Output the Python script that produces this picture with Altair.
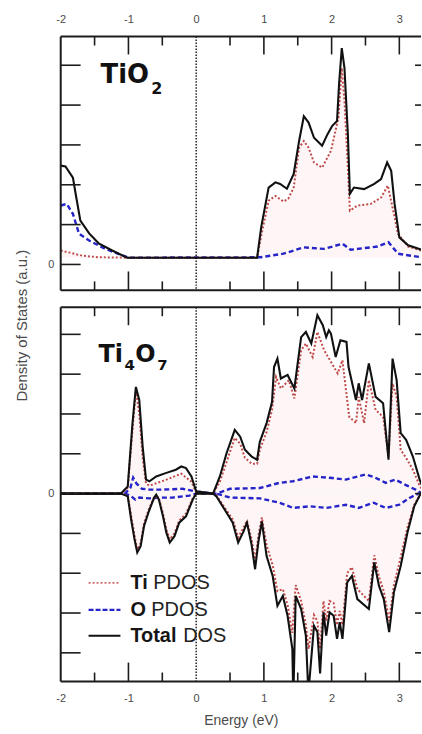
import altair as alt
import pandas as pd

# ---------------- TiO2 panel data ----------------
TIO2_TOTAL_E = [-2.0, -1.93, -1.82, -1.77, -1.71, -1.58, -1.44, -1.24, -1.02, 0.90, 0.96, 1.07, 1.17, 1.24, 1.34,
                1.44, 1.52, 1.59, 1.66, 1.74, 1.86, 1.94, 2.01, 2.08, 2.11, 2.15, 2.19, 2.24, 2.27, 2.33, 2.48,
                2.63, 2.73, 2.82, 2.88, 2.93, 3.00, 3.13, 3.36]
TIO2_TOTAL = [2.48, 2.46, 2.18, 1.68, 1.10, 0.78, 0.53, 0.35, 0.17, 0.17, 0.93, 1.93, 2.06, 2.02, 1.90,
              2.27, 3.10, 3.72, 3.56, 3.18, 2.98, 3.27, 3.48, 3.60, 4.52, 5.43, 4.93, 3.27, 1.77, 1.93, 1.89,
              2.02, 2.14, 2.56, 2.35, 1.52, 0.68, 0.48, 0.35]
TIO2_TI_E = [-2.0, -1.68, -1.44, -1.0, 0.90, 0.97, 1.07, 1.17, 1.29, 1.36, 1.44, 1.52, 1.59, 1.66, 1.74, 1.86,
             1.99, 2.10, 2.15, 2.19, 2.24, 2.27, 2.38, 2.58, 2.73, 2.83, 2.90, 2.98, 3.13, 3.36]
TIO2_TI = [0.35, 0.22, 0.18, 0.17, 0.17, 0.80, 1.60, 1.72, 1.58, 1.65, 1.93, 2.93, 3.10, 2.93, 2.56, 2.43,
           2.85, 3.68, 4.93, 4.10, 2.43, 1.35, 1.48, 1.52, 1.68, 1.98, 1.43, 0.77, 0.45, 0.33]
TIO2_O_E = [-2.0, -1.91, -1.82, -1.73, -1.58, -1.34, -1.0, 0.95, 1.29, 1.59, 1.89, 2.16, 2.28, 2.68, 2.84,
            2.98, 3.36]
TIO2_O = [1.48, 1.52, 1.27, 0.77, 0.60, 0.39, 0.17, 0.18, 0.27, 0.43, 0.39, 0.52, 0.37, 0.45, 0.56, 0.27, 0.17]
TIO2_BASE = 0.17

# ---------------- Ti4O7 panel data (spin up / spin down) ----------------
T47_TOT_UP_E = [-2.0, -1.11, -1.01, -0.94, -0.89, -0.84, -0.79, -0.74, -0.69, -0.59, -0.44, -0.30, -0.22, -0.15,
                -0.07, 0.0, 0.25, 0.35, 0.45, 0.57, 0.65, 0.72, 0.82, 0.90, 0.94, 1.04, 1.12, 1.15, 1.20, 1.25,
                1.35, 1.45, 1.55, 1.62, 1.70, 1.79, 1.87, 1.92, 1.96, 1.99, 2.06, 2.13, 2.22, 2.25, 2.36, 2.40,
                2.45, 2.55, 2.65, 2.76, 2.84, 2.90, 2.96, 3.02, 3.10, 3.20, 3.30, 3.36]
T47_TOT_UP = [0, 0, 0.18, 1.77, 2.68, 2.35, 1.18, 0.35, 0.31, 0.43, 0.52, 0.60, 0.68, 0.64,
              0.43, 0.06, 0.0, 0.43, 1.02, 1.60, 1.43, 1.10, 0.93, 0.85, 1.30, 1.77, 2.30, 3.18, 3.39, 2.89,
              2.98, 2.64, 3.93, 4.06, 3.77, 4.48, 4.23, 3.93, 4.10, 4.02, 3.43, 3.85, 3.81, 3.18, 2.35, 2.77,
              2.35, 3.27, 2.43, 2.27, 0.85, 3.39, 2.85, 1.52, 1.35, 0.93, 0.35, 0.10]
T47_TI_UP_E = [-2.0, -1.11, -1.01, -0.94, -0.89, -0.84, -0.79, -0.74, -0.69, -0.44, -0.22, -0.07, 0.0, 0.25,
               0.35, 0.45, 0.57, 0.65, 0.72, 0.82, 0.90, 0.94, 1.04, 1.12, 1.18, 1.25, 1.37, 1.45, 1.55, 1.62,
               1.72, 1.79, 1.89, 1.99, 2.09, 2.16, 2.26, 2.36, 2.40, 2.48, 2.55, 2.65, 2.76, 2.84, 2.90, 2.96,
               3.02, 3.10, 3.20, 3.30, 3.36]
T47_TI_UP = [0, 0, 0.15, 1.60, 2.60, 2.00, 0.90, 0.25, 0.20, 0.35, 0.50, 0.30, 0.03, 0.0,
             0.30, 0.80, 1.40, 1.25, 0.90, 0.75, 0.75, 1.10, 1.55, 2.10, 2.93, 2.64, 2.85, 2.39, 3.60, 3.77,
             3.43, 4.06, 3.60, 3.31, 3.02, 3.35, 1.93, 1.77, 2.43, 1.77, 2.85, 2.10, 1.93, 0.93, 2.77, 2.43,
             1.10, 0.90, 0.60, 0.20, 0.05]
T47_TOT_DN_E = [-2.0, -1.11, -1.01, -0.96, -0.91, -0.87, -0.82, -0.77, -0.70, -0.62, -0.59, -0.55, -0.49, -0.44,
                -0.39, -0.32, -0.25, -0.15, -0.05, 0.0, 0.25, 0.30, 0.42, 0.54, 0.62, 0.70, 0.75, 0.82, 0.87,
                0.92, 0.97, 1.04, 1.13, 1.20, 1.28, 1.35, 1.42, 1.43, 1.44, 1.47, 1.55, 1.62, 1.65, 1.67, 1.74,
                1.79, 1.83, 1.88, 1.92, 1.97, 2.03, 2.08, 2.12, 2.16, 2.23, 2.30, 2.38, 2.55, 2.63, 2.70, 2.77,
                2.85, 2.92, 3.02, 3.12, 3.22, 3.32, 3.36]
T47_TOT_DN = [0, 0, -0.07, -0.65, -1.15, -1.48, -1.32, -0.82, -0.45, -0.10, -0.03, -0.15, -0.57, -0.98,
              -1.23, -1.07, -0.73, -0.57, -0.15, 0.0, 0.0, -0.07, -0.40, -0.73, -1.23, -0.95, -0.73, -1.30, -1.90,
              -1.20, -0.70, -1.57, -2.07, -2.82, -2.57, -3.07, -3.90, -4.75, -4.75, -2.57, -2.90, -3.57, -4.75,
              -4.75, -3.32, -3.48, -4.52, -2.98, -3.57, -2.98, -3.07, -3.65, -3.23, -3.65, -2.23, -2.07, -2.65,
              -2.90, -1.73, -2.32, -2.65, -3.48, -2.48, -1.82, -0.98, -0.32, 0.02, 0.0]
T47_TI_DN_E = [-2.0, -1.11, -1.01, -0.96, -0.91, -0.87, -0.82, -0.77, -0.70, -0.62, -0.55, -0.49, -0.44, -0.39,
               -0.32, -0.25, -0.15, -0.05, 0.0, 0.25, 0.30, 0.42, 0.54, 0.62, 0.70, 0.75, 0.82, 0.87, 0.92, 0.97,
               1.04, 1.13, 1.20, 1.28, 1.35, 1.42, 1.47, 1.55, 1.62, 1.66, 1.74, 1.79, 1.83, 1.88, 1.92, 1.97,
               2.03, 2.08, 2.12, 2.16, 2.23, 2.30, 2.38, 2.55, 2.63, 2.70, 2.77, 2.85, 2.92, 3.02, 3.12, 3.22,
               3.32, 3.36]
T47_TI_DN = [0, 0, -0.05, -0.55, -1.05, -1.40, -1.25, -0.75, -0.40, -0.08, -0.12, -0.50, -0.90, -1.15,
             -1.00, -0.68, -0.50, -0.12, 0.0, 0.0, -0.05, -0.35, -0.65, -1.10, -0.85, -0.68, -1.15, -1.70, -1.05,
             -0.60, -1.30, -1.80, -2.45, -2.40, -2.80, -3.50, -2.30, -2.70, -3.30, -3.90, -3.05, -3.20, -3.90,
             -2.70, -3.20, -2.70, -2.75, -3.30, -2.95, -3.30, -2.00, -1.85, -2.40, -2.70, -1.55, -2.10, -2.45,
             -3.20, -2.30, -1.60, -0.85, -0.28, 0.0, 0.0]
T47_O_UP_E = [-2.0, -1.05, -0.97, -0.93, -0.88, -0.80, -0.69, -0.50, -0.20, 0.0, 0.30, 0.50, 0.94, 1.23, 1.43,
              1.72, 2.01, 2.21, 2.50, 2.62, 2.80, 2.94, 3.09, 3.24, 3.33]
T47_O_UP = [0, 0, 0.15, 0.40, 0.25, 0.12, 0.10, 0.10, 0.12, 0.05, 0.0, 0.12, 0.14, 0.27, 0.31,
            0.43, 0.39, 0.35, 0.48, 0.42, 0.27, 0.35, 0.22, 0.10, 0.0]
T47_O_DN_E = [-2.0, -1.05, -0.97, -0.90, -0.84, -0.69, -0.50, -0.35, -0.10, 0.0, 0.30, 0.50, 0.94, 1.23, 1.43,
              1.68, 1.92, 2.21, 2.40, 2.62, 2.80, 3.00, 3.15, 3.28]
T47_O_DN = [0, 0, -0.05, -0.15, -0.10, -0.12, -0.10, -0.10, -0.05, 0.0, 0.0, -0.10, -0.12, -0.23, -0.36,
            -0.32, -0.36, -0.28, -0.36, -0.23, -0.36, -0.28, -0.11, 0.0]
T47_BASE = 0.0

# ---------------- axes / ticks / labels ----------------
X_DOMAIN = [-2, 3.32]
X_LABELS = [-2, -1, 0, 1, 2, 3]
X_MAJOR = [-1, 1, 2, 3]
X_MINOR = [-1.5, -0.5, 0.5, 1.5, 2.5]
Y_DOMAIN_TOP = [-0.65, 5.72]
Y_DOMAIN_BOT = [-4.72, 4.68]
Y_TICKS_TOP = [0, 1, 2, 3, 4, 5]
Y_TICKS_BOT = [-4, -3, -2, -1, 0, 1, 2, 3, 4]
Y_LABELS = [0]
TIO2_PARTS = ["TiO", "2"]
TI4O7_PARTS = ["Ti", "4", "O", "7"]
LEGEND_BOLD = ["Ti", "O", "Total"]
LEGEND_REST = ["PDOS", "PDOS", "DOS"]
Y_TITLE = "Density of States (a.u.)"
X_TITLE = "Energy (eV)"

W = 362
H_TOP = 255
H_BOT = 376
FRAME = "#1c1c1c"
TXT = "#4a4a4a"
RED = "#c04a4a"
BLUE = "#2424c8"
BLACK = "#111111"
FILL = "#fef6f6"
FONT = "Liberation Sans"
BIG = "DejaVu Sans"


def df_of(pairs):
    return pd.concat([pd.DataFrame({"E": e, "v": v, "part": p}) for e, v, p in pairs], ignore_index=True)


def txt(s, x, y, size, weight="bold", font=BIG, color=BLACK, baseline="alphabetic"):
    return alt.Chart(pd.DataFrame({"t": [s]})).mark_text(
        align="left", baseline=baseline, font=font, fontSize=size, fontWeight=weight, color=color
    ).encode(x=alt.value(x), y=alt.value(y), text="t:N")


def panel(h, ydom, yticks, ti, o, tot, base, x_axis, y_axis, extra):
    xs = alt.Scale(domain=X_DOMAIN, nice=False, zero=False)
    ys = alt.Scale(domain=ydom, nice=False, zero=False)
    X = alt.X("E:Q", scale=xs, axis=x_axis)
    Y = alt.Y("v:Q", scale=ys, axis=y_axis)
    layers = [
        alt.Chart(ti).mark_area(color=FILL, clip=True).encode(x=X, y=Y, y2=alt.datum(base), detail="part:N"),
        alt.Chart(o).mark_line(color=BLUE, strokeWidth=2.4, strokeDash=[5, 3], clip=True).encode(
            x=X, y=Y, detail="part:N"),
        alt.Chart(ti).mark_line(color=RED, strokeWidth=2, strokeDash=[2, 2], clip=True).encode(
            x=X, y=Y, detail="part:N"),
        alt.Chart(tot).mark_line(color=BLACK, strokeWidth=2.1, clip=True).encode(x=X, y=Y, detail="part:N"),
        # Fermi level
        alt.Chart(pd.DataFrame({"E": [0]})).mark_rule(color="#000000", strokeWidth=1.3,
                                                      strokeDash=[1.5, 1.5]).encode(
            x=X, y=alt.value(0), y2=alt.value(h)),
        # x ticks (inward)
        alt.Chart(pd.DataFrame({"E": X_MAJOR})).mark_rule(color=FRAME, strokeWidth=1.6).encode(
            x=X, y=alt.value(0), y2=alt.value(18)),
        alt.Chart(pd.DataFrame({"E": X_MAJOR})).mark_rule(color=FRAME, strokeWidth=1.6).encode(
            x=X, y=alt.value(h - 19), y2=alt.value(h)),
        alt.Chart(pd.DataFrame({"E": X_MINOR})).mark_rule(color=FRAME, strokeWidth=1.6).encode(
            x=X, y=alt.value(0), y2=alt.value(9)),
        alt.Chart(pd.DataFrame({"E": X_MINOR})).mark_rule(color=FRAME, strokeWidth=1.6).encode(
            x=X, y=alt.value(h - 9), y2=alt.value(h)),
        # y ticks (inward)
        alt.Chart(pd.DataFrame({"v": yticks})).mark_rule(color=FRAME, strokeWidth=1.6).encode(
            y=Y, x=alt.value(0), x2=alt.value(20)),
        alt.Chart(pd.DataFrame({"v": yticks})).mark_rule(color=FRAME, strokeWidth=1.6).encode(
            y=Y, x=alt.value(W - 6), x2=alt.value(W)),
        # frame (left, top, bottom)
        alt.Chart(pd.DataFrame({"k": [0]})).mark_rule(color=FRAME, strokeWidth=2).encode(
            x=alt.value(0), y=alt.value(0), y2=alt.value(h)),
        alt.Chart(pd.DataFrame({"k": [0]})).mark_rule(color=FRAME, strokeWidth=2).encode(
            x=alt.value(0), x2=alt.value(W), y=alt.value(0)),
        alt.Chart(pd.DataFrame({"k": [0]})).mark_rule(color=FRAME, strokeWidth=2).encode(
            x=alt.value(0), x2=alt.value(W), y=alt.value(h)),
    ]
    return alt.layer(*layers, *extra).properties(width=W, height=h)


def x_axis(orient, pad, title=None):
    kw = dict(orient=orient, values=X_LABELS, ticks=False, tickSize=0, domain=False, grid=False,
              labelPadding=pad, labelFontSize=11, labelColor=TXT, labelFont=FONT, labelFlush=False,
              labelOverlap=False, labelExpr="'' + datum.value")
    if title:
        kw.update(title=title, titleFontSize=14, titleFontWeight="normal", titleColor=TXT, titleFont=FONT,
                  titlePadding=10)
    else:
        kw.update(title=None)
    return alt.Axis(**kw)


def y_axis(title=None):
    kw = dict(values=Y_LABELS, ticks=False, tickSize=0, domain=False, grid=False, labelPadding=7,
              labelFontSize=11, labelColor=TXT, labelFont=FONT)
    if title:
        kw.update(title=title, titleX=-39, titleY=18, titleAngle=270, titleAlign="center",
                  titleBaseline="middle", titleFontSize=15, titleFontWeight="normal", titleColor=TXT,
                  titleFont=FONT)
    else:
        kw.update(title=None)
    return alt.Axis(**kw)


tio2_tot = df_of([(TIO2_TOTAL_E, TIO2_TOTAL, "a")])
tio2_ti = df_of([(TIO2_TI_E, TIO2_TI, "a")])
tio2_o = df_of([(TIO2_O_E, TIO2_O, "a")])

t47_tot = df_of([(T47_TOT_UP_E, T47_TOT_UP, "up"), (T47_TOT_DN_E, T47_TOT_DN, "dn")])
t47_ti = df_of([(T47_TI_UP_E, T47_TI_UP, "up"), (T47_TI_DN_E, T47_TI_DN, "dn")])
t47_o = df_of([(T47_O_UP_E, T47_O_UP, "up"), (T47_O_DN_E, T47_O_DN, "dn")])

top_extra = [
    txt(TIO2_PARTS[0], 40, 47, 26),
    txt(TIO2_PARTS[1], 91, 58, 16),
]

legend_y = [277, 304, 330]
bot_extra = [
    txt(TI4O7_PARTS[0], 38, 55, 24),
    txt(TI4O7_PARTS[1], 64, 63, 15),
    txt(TI4O7_PARTS[2], 75, 55, 24),
    txt(TI4O7_PARTS[3], 97, 63, 15),
    alt.Chart(pd.DataFrame({"k": [0]})).mark_rule(color="#d06868", strokeWidth=1.8, strokeDash=[2, 2]).encode(
        x=alt.value(28), x2=alt.value(60), y=alt.value(legend_y[0])),
    alt.Chart(pd.DataFrame({"k": [0]})).mark_rule(color=BLUE, strokeWidth=2.4, strokeDash=[5, 2]).encode(
        x=alt.value(28), x2=alt.value(60), y=alt.value(legend_y[1])),
    alt.Chart(pd.DataFrame({"k": [0]})).mark_rule(color=BLACK, strokeWidth=2).encode(
        x=alt.value(28), x2=alt.value(60), y=alt.value(legend_y[2])),
    txt(LEGEND_BOLD[0], 70, legend_y[0], 20, font=FONT, baseline="middle", color="#151515"),
    txt(LEGEND_REST[0], 93, legend_y[0], 20, weight="normal", font=FONT, baseline="middle", color="#222"),
    txt(LEGEND_BOLD[1], 70, legend_y[1], 20, font=FONT, baseline="middle", color="#151515"),
    txt(LEGEND_REST[1], 91, legend_y[1], 20, weight="normal", font=FONT, baseline="middle", color="#222"),
    txt(LEGEND_BOLD[2], 70, legend_y[2], 20, font=FONT, baseline="middle", color="#151515"),
    txt(LEGEND_REST[2], 123, legend_y[2], 20, weight="normal", font=FONT, baseline="middle", color="#222"),
]

top = panel(H_TOP, Y_DOMAIN_TOP, Y_TICKS_TOP, tio2_ti, tio2_o, tio2_tot, TIO2_BASE,
            x_axis("top", 12), y_axis(), top_extra)
bot = panel(H_BOT, Y_DOMAIN_BOT, Y_TICKS_BOT, t47_ti, t47_o, t47_tot, T47_BASE,
            x_axis("bottom", 11, X_TITLE), y_axis(Y_TITLE), bot_extra)

chart = alt.vconcat(top, bot, spacing=17, bounds="flush").properties(
    padding={"left": 14, "top": 12, "right": 0, "bottom": 0},
    background="white",
).configure_view(stroke=None)

chart.save("out.html", embed_options={"renderer": "svg", "actions": False})
